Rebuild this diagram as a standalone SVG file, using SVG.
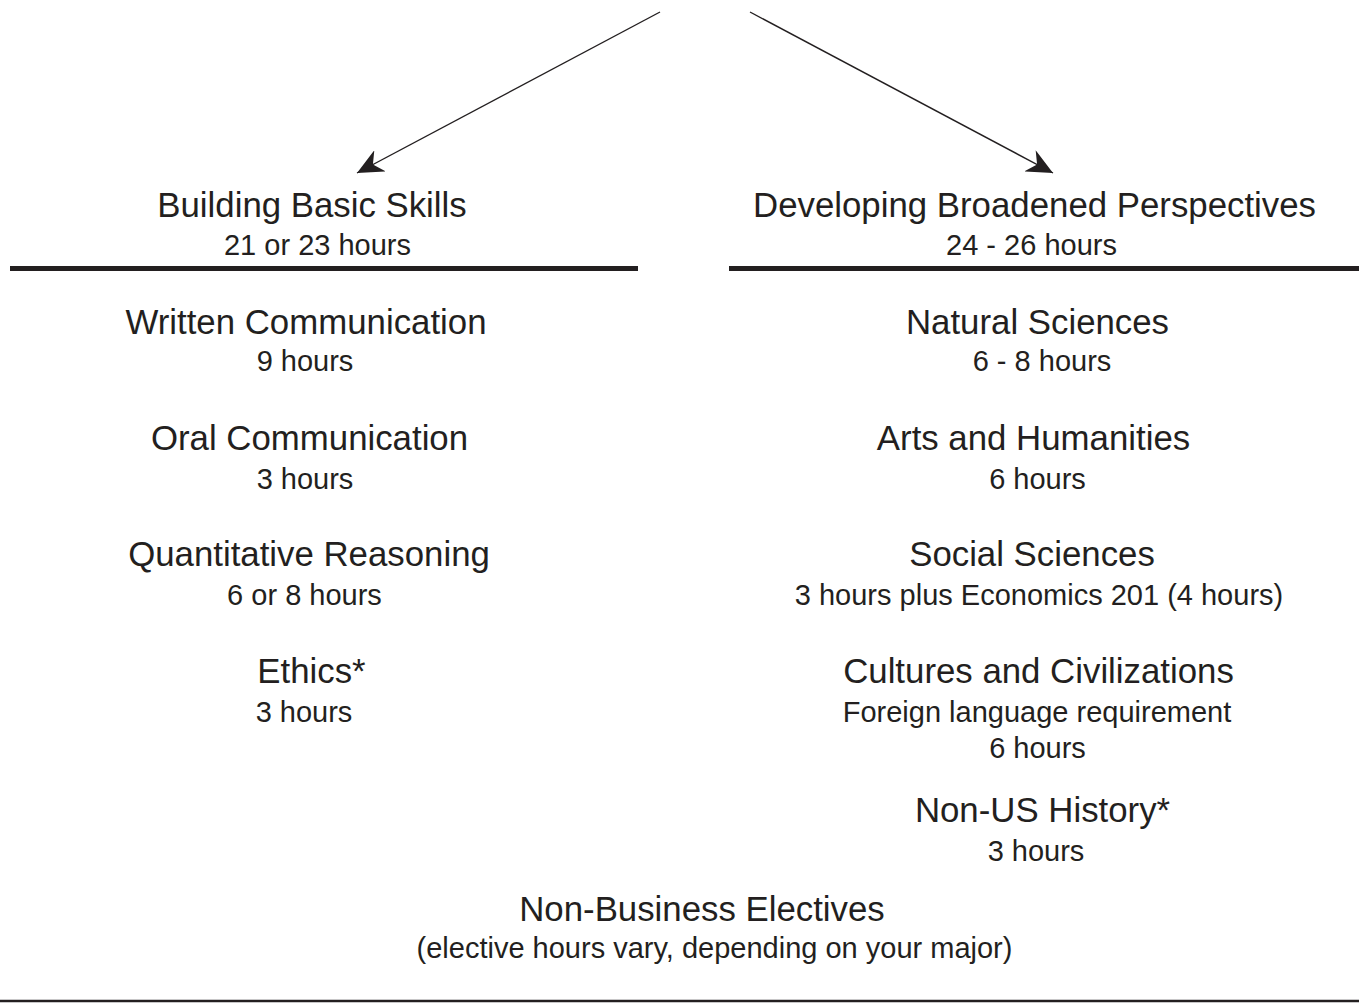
<svg xmlns="http://www.w3.org/2000/svg" width="1359" height="1004" viewBox="0 0 1359 1004">
<defs>
<marker id="stealth" markerUnits="userSpaceOnUse" markerWidth="26" markerHeight="24" refX="26" refY="12" orient="auto" viewBox="0 0 26 24">
<path d="M26,12 L0,0 L8,12 L0,24 Z" fill="#231f20"/>
</marker>
<style>
text{font-family:"Liberation Sans",Arial,sans-serif;fill:#231f20;text-anchor:middle}
.t{font-size:34.8px}
.s{font-size:29px}
.conn{stroke:#231f20;stroke-width:1.4;fill:none}
.rule{stroke:#231f20;stroke-width:5}
</style>
</defs>
<rect width="1359" height="1004" fill="#ffffff"/>
<g id="connectors">
<line class="conn" x1="660" y1="12" x2="357" y2="173" marker-end="url(#stealth)"/>
<line class="conn" x1="750" y1="12" x2="1053" y2="173" marker-end="url(#stealth)"/>
</g>
<g id="rules">
<line class="rule" x1="10" y1="268.5" x2="638" y2="268.5"/>
<line class="rule" x1="729" y1="268.5" x2="1359" y2="268.5"/>
<line stroke="#231f20" stroke-width="2.5" x1="0" y1="1001" x2="1359" y2="1001"/>
</g>
<g id="building-basic-skills">
<text class="t" x="312" y="216.5">Building Basic Skills</text>
<text class="s" x="317.5" y="255">21 or 23 hours</text>
</g>
<g id="developing-broadened-perspectives">
<text class="t" x="1034.5" y="216.5">Developing Broadened Perspectives</text>
<text class="s" x="1031.5" y="255">24 - 26 hours</text>
</g>
<g id="written-communication">
<text class="t" x="306" y="333.5">Written Communication</text>
<text class="s" x="305" y="371">9 hours</text>
</g>
<g id="oral-communication">
<text class="t" x="309.5" y="449.5">Oral Communication</text>
<text class="s" x="305" y="489">3 hours</text>
</g>
<g id="quantitative-reasoning">
<text class="t" x="309" y="565.5">Quantitative Reasoning</text>
<text class="s" x="304.5" y="605">6 or 8 hours</text>
</g>
<g id="ethics">
<text class="t" x="311.5" y="682.5">Ethics*</text>
<text class="s" x="304" y="722">3 hours</text>
</g>
<g id="natural-sciences">
<text class="t" x="1037.5" y="333.5">Natural Sciences</text>
<text class="s" x="1042" y="371">6 - 8 hours</text>
</g>
<g id="arts-and-humanities">
<text class="t" x="1033.5" y="449.5">Arts and Humanities</text>
<text class="s" x="1037.5" y="489">6 hours</text>
</g>
<g id="social-sciences">
<text class="t" x="1032" y="565.5">Social Sciences</text>
<text class="s" x="1039" y="605">3 hours plus Economics 201 (4 hours)</text>
</g>
<g id="cultures-and-civilizations">
<text class="t" x="1038.5" y="682.5">Cultures and Civilizations</text>
<text class="s" x="1037" y="722">Foreign language requirement</text>
<text class="s" x="1037.5" y="758">6 hours</text>
</g>
<g id="non-us-history">
<text class="t" x="1042.5" y="821.5">Non-US History*</text>
<text class="s" x="1036" y="861">3 hours</text>
</g>
<g id="non-business-electives">
<text class="t" x="702" y="920.5">Non-Business Electives</text>
<text class="s" x="714.5" y="958">(elective hours vary, depending on your major)</text>
</g>
</svg>
